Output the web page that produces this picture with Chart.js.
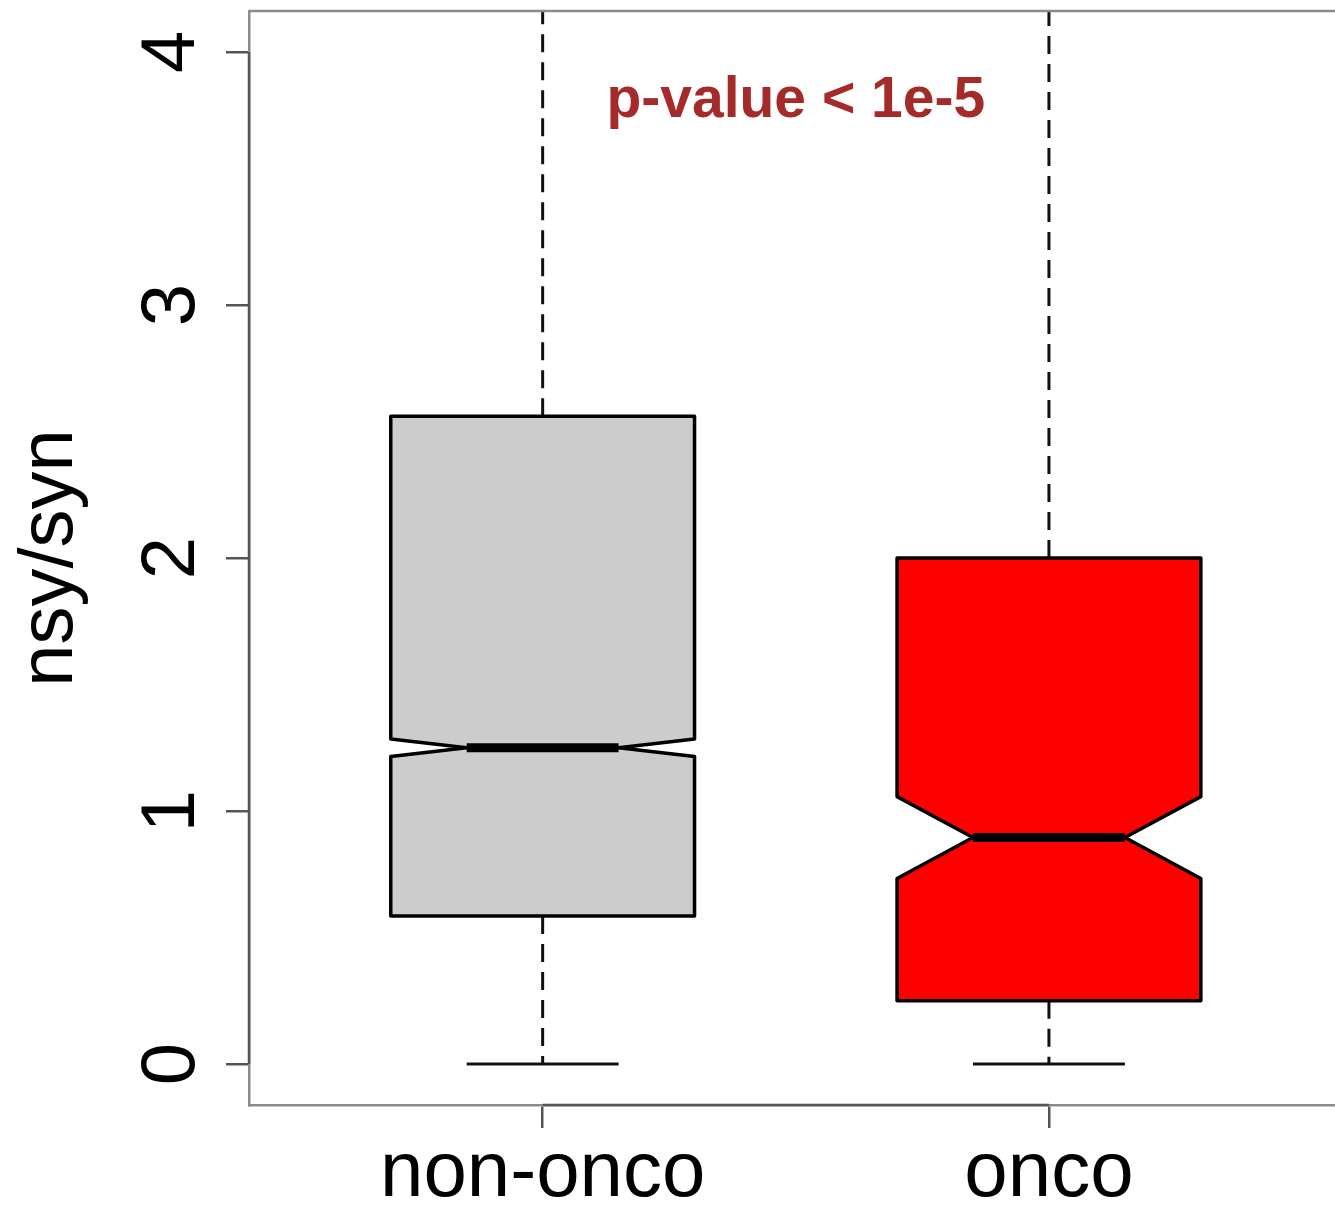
<!DOCTYPE html>
<html>
<head>
<meta charset="utf-8">
<script src="https://cdn.jsdelivr.net/npm/chart.js@4/dist/chart.umd.min.js"></script>
<style>
  html, body { margin: 0; padding: 0; background: #fff; overflow: hidden; }
  #boxChart { display: block; }
</style>
</head>
<body>
<canvas id="boxChart" width="1335" height="1216"></canvas>
<script>
// box statistics
const groups = ['non-onco', 'onco'];
const lowerWhisker = [0, 0];
const q1 = [0.585, 0.25];
const median = [1.25, 0.895];
const q3 = [2.56, 2.0];
const upperWhisker = [5.2, 4.9]; // runs off the top of the plot
const notchHalf = [0.035, 0.162];
const yTicks = [0, 1, 2, 3, 4];
const boxFill = ['#cccccc', '#ff0000'];
const pText = 'p-value < 1e-5';

const FONT = '"Liberation Sans", Arial, Helvetica, sans-serif';

const notchedBoxes = {
  id: 'notchedBoxes',
  beforeDatasetsDraw(chart) {
    const { ctx, chartArea: a } = chart;
    const xs = chart.scales.x, ys = chart.scales.y;
    const halfW = 0.3, halfCap = 0.15;

    ctx.save();
    ctx.beginPath();
    ctx.rect(a.left, a.top, a.right - a.left, a.bottom - a.top);
    ctx.clip();

    groups.forEach((g, i) => {
      const c = i + 1;
      const xc = xs.getPixelForValue(c);
      const xl = xs.getPixelForValue(c - halfW), xr = xs.getPixelForValue(c + halfW);
      const xnl = xs.getPixelForValue(c - halfW / 2), xnr = xs.getPixelForValue(c + halfW / 2);
      const yq1 = ys.getPixelForValue(q1[i]), yq3 = ys.getPixelForValue(q3[i]);
      const ymed = ys.getPixelForValue(median[i]);
      const ynLo = ys.getPixelForValue(median[i] - notchHalf[i]);
      const ynHi = ys.getPixelForValue(median[i] + notchHalf[i]);

      // whiskers
      ctx.strokeStyle = '#111';
      ctx.lineWidth = 3;
      ctx.setLineDash([18, 10]);
      ctx.beginPath();
      ctx.moveTo(xc, yq3);
      ctx.lineTo(xc, ys.getPixelForValue(upperWhisker[i]));
      ctx.moveTo(xc, yq1);
      ctx.lineTo(xc, ys.getPixelForValue(lowerWhisker[i]));
      ctx.stroke();
      ctx.setLineDash([]);

      // staples
      ctx.beginPath();
      [lowerWhisker[i], upperWhisker[i]].forEach(v => {
        const yv = ys.getPixelForValue(v);
        ctx.moveTo(xs.getPixelForValue(c - halfCap), yv);
        ctx.lineTo(xs.getPixelForValue(c + halfCap), yv);
      });
      ctx.stroke();

      // notched box
      ctx.beginPath();
      ctx.moveTo(xl, yq1);
      ctx.lineTo(xl, ynLo);
      ctx.lineTo(xnl, ymed);
      ctx.lineTo(xl, ynHi);
      ctx.lineTo(xl, yq3);
      ctx.lineTo(xr, yq3);
      ctx.lineTo(xr, ynHi);
      ctx.lineTo(xnr, ymed);
      ctx.lineTo(xr, ynLo);
      ctx.lineTo(xr, yq1);
      ctx.closePath();
      ctx.fillStyle = boxFill[i];
      ctx.fill();
      ctx.lineJoin = 'round';
      ctx.strokeStyle = '#000';
      ctx.lineWidth = 3.5;
      ctx.stroke();

      // median
      ctx.beginPath();
      ctx.lineCap = 'butt';
      ctx.lineWidth = 9;
      ctx.moveTo(xnl, ymed);
      ctx.lineTo(xnr, ymed);
      ctx.stroke();
    });
    ctx.restore();
  },
  afterDraw(chart) {
    const { ctx, chartArea: a } = chart;
    const xs = chart.scales.x, ys = chart.scales.y;
    ctx.save();

    // top edge of the frame
    ctx.strokeStyle = '#8c8c8c';
    ctx.lineWidth = 2.5;
    ctx.beginPath();
    ctx.moveTo(a.left, a.top);
    ctx.lineTo(a.right, a.top);
    ctx.stroke();

    // axis lines between first and last tick
    ctx.strokeStyle = '#555';
    ctx.beginPath();
    ctx.moveTo(xs.getPixelForValue(1), a.bottom);
    ctx.lineTo(xs.getPixelForValue(groups.length), a.bottom);
    ctx.moveTo(a.left, ys.getPixelForValue(yTicks[0]));
    ctx.lineTo(a.left, ys.getPixelForValue(yTicks[yTicks.length - 1]));
    ctx.stroke();

    // y tick labels, turned like R does
    ctx.fillStyle = '#000';
    ctx.font = '76px ' + FONT;
    ctx.textAlign = 'center';
    ctx.textBaseline = 'alphabetic';
    yTicks.forEach(v => {
      ctx.save();
      ctx.translate(a.left - 55, ys.getPixelForValue(v));
      ctx.rotate(-Math.PI / 2);
      ctx.fillText(String(v), 0, 0);
      ctx.restore();
    });

    // p-value note
    ctx.fillStyle = '#a52a2a';
    ctx.font = 'bold 57px ' + FONT;
    ctx.fillText(pText, xs.getPixelForValue(1.5), ys.getPixelForValue(3.745));
    ctx.restore();
  }
};

const config = {
  type: 'scatter',
  data: {
    datasets: [{
      data: groups.map((g, i) => ({ x: i + 1, y: median[i] })),
      pointRadius: 0
    }]
  },
  options: {
    responsive: false,
    animation: false,
    layout: { padding: { top: 11, right: 0, left: 0, bottom: 0 } },
    plugins: {
      legend: { display: false },
      tooltip: { enabled: false }
    },
    scales: {
      x: {
        type: 'linear',
        min: 0.42,
        max: 2.565,
        afterBuildTicks: s => { s.ticks = groups.map((g, i) => ({ value: i + 1 })); },
        afterFit: s => { s.height = 111; },
        ticks: {
          autoSkip: false,
          maxRotation: 0,
          padding: 7,
          color: '#000',
          font: { family: FONT, size: 78, lineHeight: 1.0 },
          callback: v => groups[v - 1] || ''
        },
        grid: { drawOnChartArea: false, drawTicks: true, tickLength: 23, color: '#555', lineWidth: 2.5 },
        border: { display: true, color: '#8c8c8c', width: 2.5 }
      },
      y: {
        type: 'linear',
        min: -0.162,
        max: 4.162,
        afterBuildTicks: s => { s.ticks = yTicks.map(v => ({ value: v })); },
        afterFit: s => { s.width = 249; },
        ticks: { display: false },
        grid: { drawOnChartArea: false, drawTicks: true, tickLength: 23, color: '#555', lineWidth: 2.5 },
        border: { display: true, color: '#8c8c8c', width: 2.5 },
        title: {
          display: true,
          text: 'nsy/syn',
          color: '#000',
          font: { family: FONT, size: 76 },
          padding: { top: 5, bottom: 0 }
        }
      }
    }
  },
  plugins: [notchedBoxes]
};

const boxChart = new Chart(document.getElementById('boxChart').getContext('2d'), config);
</script>
</body>
</html>
